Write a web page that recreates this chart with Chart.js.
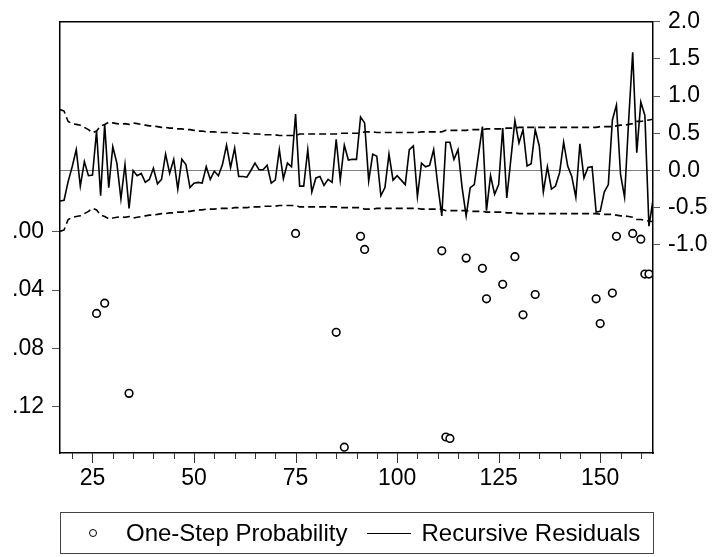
<!DOCTYPE html>
<html><head><meta charset="utf-8">
<script src="https://cdn.jsdelivr.net/npm/chart.js@4.4.1/dist/chart.umd.min.js"></script>
<style>
html,body{margin:0;padding:0;background:#fff;}
#wrap{position:relative;width:717px;height:557px;}
#legend{position:absolute;left:60px;top:512px;width:594px;height:42px;border:1px solid #444;box-sizing:border-box;display:flex;align-items:center;padding-left:28px;font-family:"Liberation Sans",Arial,sans-serif;font-size:24px;color:#000;white-space:nowrap;}
.dot{display:inline-block;width:6px;height:6px;border:1.6px solid #000;border-radius:50%;margin-right:29px;}
.ln{display:inline-block;width:44px;height:0;border-top:1.6px solid #000;margin:0 10px 0 20px;}
</style></head>
<body><div id="wrap"><canvas id="c" width="717" height="557"></canvas>
<div id="legend"><span class="dot"></span><span>One-Step Probability</span><span class="ln"></span><span>Recursive Residuals</span></div></div>
<script>
const firstObs = 17;
const residuals = [-0.41,-0.40,-0.15,0.05,0.28,-0.21,0.12,-0.07,-0.06,0.53,
 -0.34,0.62,-0.23,0.32,0.10,-0.38,0.08,-0.51,0.00,-0.07,
 -0.04,-0.16,-0.12,0.03,-0.18,-0.12,0.22,-0.04,0.15,-0.25,
 0.15,0.08,-0.23,-0.17,-0.16,-0.17,0.05,-0.12,-0.01,-0.07,
 0.08,0.34,0.04,0.30,-0.08,-0.08,-0.09,0.00,0.10,0.01,
 0.01,0.07,-0.17,-0.13,0.28,-0.11,0.10,0.05,0.76,-0.21,
 -0.21,0.28,-0.29,-0.10,-0.08,-0.20,-0.12,-0.16,0.42,-0.13,
 0.34,0.14,0.15,0.15,0.72,0.64,-0.14,0.22,0.19,-0.34,
 -0.23,0.22,-0.13,-0.07,-0.13,-0.19,0.28,0.33,-0.35,0.10,
 0.05,0.07,0.28,-0.19,-0.61,0.38,0.38,0.15,0.28,-0.23,
 -0.61,-0.23,-0.19,0.20,0.59,-0.54,-0.07,-0.32,-0.19,0.57,
 -0.37,0.15,0.67,0.37,0.55,0.06,0.09,0.55,0.33,-0.29,
 0.05,-0.25,-0.21,-0.03,0.38,0.06,-0.08,-0.36,0.36,-0.10,
 0.04,0.05,-0.56,-0.55,-0.29,-0.19,0.68,0.88,-0.05,-0.36,
 0.67,1.59,0.24,0.92,0.74,-0.75,-0.40];
const twoSE = [0.82,0.80,0.66,0.63,0.62,0.61,0.58,0.55,0.51,0.53,
 0.60,0.62,0.65,0.64,0.63,0.62,0.63,0.62,0.64,0.63,
 0.62,0.61,0.60,0.60,0.59,0.58,0.58,0.57,0.57,0.56,
 0.56,0.55,0.55,0.54,0.53,0.53,0.52,0.52,0.52,0.51,
 0.51,0.51,0.51,0.50,0.50,0.50,0.50,0.49,0.49,0.49,
 0.48,0.48,0.48,0.48,0.47,0.47,0.47,0.47,0.47,0.49,
 0.49,0.49,0.49,0.49,0.49,0.49,0.49,0.49,0.49,0.50,
 0.50,0.50,0.50,0.50,0.50,0.52,0.52,0.52,0.51,0.51,
 0.51,0.51,0.51,0.51,0.51,0.51,0.51,0.51,0.51,0.52,
 0.52,0.52,0.52,0.52,0.52,0.54,0.54,0.54,0.54,0.54,
 0.54,0.55,0.55,0.55,0.55,0.56,0.56,0.56,0.56,0.56,
 0.57,0.57,0.57,0.58,0.58,0.58,0.58,0.58,0.58,0.58,
 0.58,0.58,0.58,0.58,0.58,0.58,0.58,0.58,0.58,0.58,
 0.58,0.58,0.58,0.59,0.59,0.59,0.59,0.60,0.61,0.61,
 0.62,0.63,0.66,0.66,0.67,0.68,0.69];
const probObs = [26,28,34,75,85,87,91,92,111,112,113,117,121,122,126,129,131,134,149,150,153,154,158,160,161,162];
const probValues = [0.056,0.049,0.111,0.001,0.069,0.148,0.003,0.012,0.013,0.141,0.142,0.018,0.025,0.046,0.036,0.017,0.057,0.043,0.046,0.063,0.042,0.003,0.001,0.005,0.029,0.029];
const xTicks = [20,25,30,35,40,45,50,55,60,65,70,75,80,85,90,95,100,105,110,115,120,125,130,135,140,145,150,155,160];
const leftTicks = [0,0.04,0.08,0.12];
const rightTicks = [2.0,1.5,1.0,0.5,0.0,-0.5,-1.0];

const obs = residuals.map((_, i) => firstObs + i);
const pts = arr => arr.map((v, i) => ({x: obs[i], y: v}));
const FONT = {family: '"Liberation Sans", Arial, sans-serif', size: 23};

const frame = {
  id: 'frame',
  afterDraw(chart) {
    const {ctx, chartArea: a} = chart;
    const xs = chart.scales.x;
    ctx.save();
    ctx.strokeStyle = '#000';
    ctx.lineWidth = 1.5;
    ctx.beginPath();
    ctx.moveTo(a.left, a.top);
    ctx.lineTo(a.right, a.top);
    ctx.stroke();
    ctx.strokeStyle = '#333';
    ctx.lineWidth = 1;
    ctx.beginPath();
    xTicks.forEach(v => {
      const px = Math.round(xs.getPixelForValue(v)) + 0.5;
      ctx.moveTo(px, a.bottom);
      ctx.lineTo(px, a.bottom + (v % 25 === 0 ? 10 : 6));
    });
    ctx.stroke();
    ctx.restore();
  }
};

new Chart(document.getElementById('c'), {
  type: 'line',
  data: {
    datasets: [
      {label: 'One-Step Probability', type: 'scatter', data: probObs.map((t, i) => ({x: t, y: probValues[i]})),
       yAxisID: 'yL', pointStyle: 'circle', pointRadius: 3.8, pointBorderWidth: 1.6,
       borderColor: '#000', backgroundColor: '#fff', showLine: false, order: 0},
      {label: 'Recursive Residuals', data: pts(residuals), yAxisID: 'yR', borderColor: '#000',
       borderWidth: 1.6, pointRadius: 0, tension: 0, order: 1},
      {label: 'upper', data: pts(twoSE), yAxisID: 'yR', borderColor: '#000', borderWidth: 1.6,
       borderDash: [7, 4], pointRadius: 0, tension: 0, order: 2},
      {label: 'lower', data: pts(twoSE.map(v => -v)), yAxisID: 'yR', borderColor: '#000', borderWidth: 1.6,
       borderDash: [7, 4], pointRadius: 0, tension: 0, order: 2}
    ]
  },
  options: {
    responsive: false, animation: false, devicePixelRatio: 1,
    layout: {padding: {top: 18, bottom: 60, left: 0, right: 0}},
    plugins: {legend: {display: false}, tooltip: {enabled: false}},
    scales: {
      x: {type: 'linear', min: 17, max: 163, position: 'bottom',
          afterBuildTicks: s => { s.ticks = xTicks.map(v => ({value: v})); },
          afterFit: s => { s.height = 44; },
          ticks: {font: FONT, color: '#000', maxRotation: 0, autoSkip: false, padding: 12,
                  callback: v => (v % 25 === 0 ? String(v) : '')},
          grid: {drawOnChartArea: false, drawTicks: false, color: '#000', lineWidth: 1},
          border: {color: '#000', width: 1.5}},
      yL: {position: 'left', reverse: true, min: -0.1445, max: 0.152,
           afterBuildTicks: s => { s.ticks = leftTicks.map(v => ({value: v})); },
           afterFit: s => { s.width = 60; },
           ticks: {font: FONT, color: '#000', padding: 8, callback: v => v.toFixed(2).replace(/^0/, '')},
           grid: {drawOnChartArea: false, tickLength: 8, color: '#555', lineWidth: 1},
           border: {color: '#000', width: 1.5}},
      yR: {position: 'right', min: -3.8, max: 2.0,
           afterBuildTicks: s => { s.ticks = rightTicks.map(v => ({value: v})); },
           afterFit: s => { s.width = 64; },
           ticks: {font: FONT, color: '#000', padding: 8, callback: v => v.toFixed(1)},
           grid: {drawOnChartArea: true, tickLength: 7, lineWidth: 1,
                  color: c => (c.tick && c.tick.value === 0 ? '#808080' : 'rgba(0,0,0,0)'),
                  tickColor: '#555'},
           border: {color: '#000', width: 1.5}}
    }
  },
  plugins: [frame]
});
</script></body></html>
